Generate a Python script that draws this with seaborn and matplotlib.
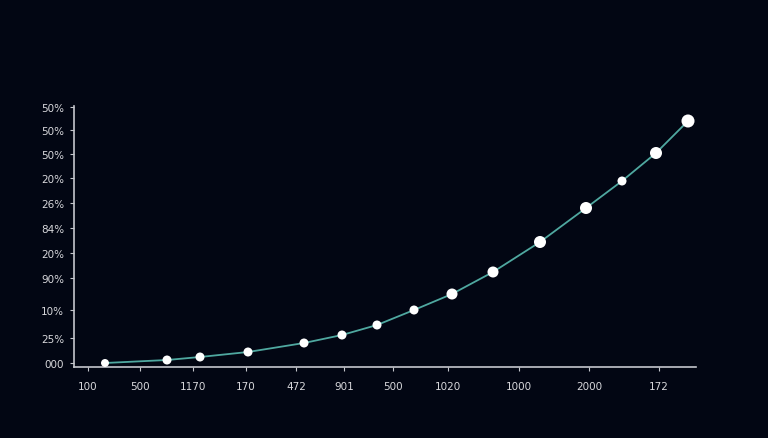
import matplotlib
matplotlib.use('Agg')
import matplotlib.pyplot as plt
import numpy as np
import pandas as pd
import seaborn as sns

# values (axis units are arbitrary)
x_vals = [31, 93, 126, 174, 230, 268, 303, 340, 378, 419, 466, 512, 548, 582, 614]
y_vals = [4, 7, 10, 15, 24, 32, 42, 57, 73, 95, 125, 159, 186, 214, 246]
marker_area = [33, 42, 42, 42, 42, 42, 42, 42, 63, 63, 75, 75, 42, 75, 88]

x_ticks = [14, 66, 119, 172, 222, 270, 319, 374, 445, 515, 585]
x_labels = ['100', '500', '1170', '170', '472', '901', '500', '1020', '1000', '2000', '172']
y_ticks = [4, 29, 57, 89, 114, 139, 164, 189, 213, 237, 260]
y_labels = ['000', '25%', '10%', '90%', '20%', '84%', '26%', '20%', '50%', '50%', '50%']

df = pd.DataFrame({'x': x_vals, 'y': y_vals, 'area': marker_area})

bg = '#020613'
axis_col = '#c4c6cc'
sns.set_theme(style='ticks')
sns.set_style({'axes.facecolor': bg, 'figure.facecolor': bg})
plt.rcParams['font.family'] = ['DejaVu Sans']

fig = plt.figure(figsize=(7.68, 4.39), dpi=100)
fig.patch.set_facecolor(bg)
ax = fig.add_axes([74 / 768, 71 / 439, 622 / 768, 261 / 439])
ax.set_facecolor(bg)

sns.lineplot(data=df, x='x', y='y', color='#4fa8a0', linewidth=1.3, ax=ax, zorder=2)
sns.scatterplot(data=df, x='x', y='y', size='area', sizes=(min(marker_area), max(marker_area)),
                color='white', edgecolor='none', legend=False, ax=ax, zorder=3)

ax.set_xlim(0, 622)
ax.set_ylim(0, 261)
ax.set_xticks(x_ticks)
ax.set_xticklabels(x_labels)
ax.set_yticks(y_ticks)
ax.set_yticklabels(y_labels)
ax.set_xlabel('')
ax.set_ylabel('')

for side in ['top', 'right']:
    ax.spines[side].set_visible(False)
for side in ['left', 'bottom']:
    ax.spines[side].set_color(axis_col)
    ax.spines[side].set_linewidth(1.2)
ax.tick_params(axis='both', colors=axis_col, labelcolor='#d8d8dc', labelsize=7.5,
               length=3, width=0.8, direction='out', pad=4)
ax.tick_params(axis='x', pad=7)

fig.savefig('out.png', dpi=100, facecolor=bg)
plt.close(fig)
